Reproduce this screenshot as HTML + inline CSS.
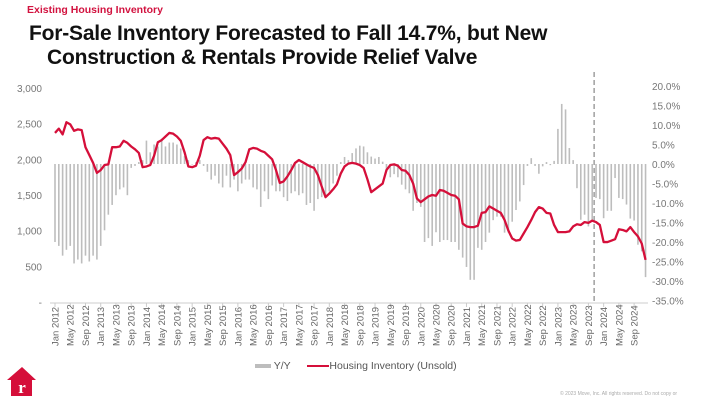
<!DOCTYPE html>
<html><head><meta charset="utf-8">
<style>
body{margin:0;width:702px;height:410px;background:#fff;overflow:hidden;font-family:"Liberation Sans",Arial,sans-serif;position:relative}
.sub{position:absolute;left:27px;top:4px;color:#d2123f;font-size:10.5px;font-weight:bold}
.t{position:absolute;font-size:21px;font-weight:bold;color:#111;white-space:nowrap;letter-spacing:-0.2px}
svg{position:absolute;left:0;top:0}
</style></head><body>
<div class="sub">Existing Housing Inventory</div>
<div class="t" style="left:29px;top:22px">For-Sale Inventory Forecasted to Fall 14.7%, but New</div>
<div class="t" style="left:47px;top:46px">Construction &amp; Rentals Provide Relief Valve</div>
<svg id="c" width="702" height="410"></svg>
<script>
const inventory=[2370,2430,2350,2520,2490,2400,2420,2410,2170,2060,1950,1810,
1850,1920,1930,2170,2170,2180,2260,2230,2180,2140,2090,1890,
1900,1920,2050,2240,2270,2320,2370,2360,2320,2260,2100,1900,
1890,1910,2050,2270,2310,2290,2300,2290,2220,2150,2060,1780,
1820,1870,1960,2140,2160,2150,2120,2100,2050,2000,1850,1670,
1690,1760,1850,1950,1990,1960,1930,1900,1880,1780,1620,1470,
1520,1580,1650,1800,1900,1940,1950,1940,1920,1880,1720,1540,
1580,1620,1660,1850,1920,1930,1910,1850,1840,1780,1660,1450,
1400,1440,1480,1500,1490,1570,1560,1530,1500,1490,1440,1100,
1060,1050,1050,1070,1250,1260,1340,1310,1280,1250,1150,1000,
890,860,870,960,1050,1150,1260,1330,1310,1250,1240,1080,
980,980,980,990,1060,1090,1080,1120,1110,1140,1120,1080,
840,840,860,880,1020,1010,990,1050,980,920,820,590];
const yoy=[-20,-21,-23.5,-22,-21,-25.5,-24.5,-25.5,-23.5,-25,-23.5,-24.5,
-21,-17,-13,-10.5,-8,-6.5,-6,-8,-1,-0.5,0.5,1,
6,3,5,4.5,6.5,4.5,5.5,5.5,5,4,2,1,
0,0.5,1,-0.5,-2,-4,-3,-5,-6,-3,-6,-4,
-7,-5,-4,-4,-6,-6.5,-11,-7,-9,-5.5,-7,-7,
-8.5,-9.5,-7.5,-7,-8,-7.5,-10.5,-10,-12,-9,-8.5,-8,
-7,-5,-3,0.5,1.8,1,2.8,4,4.7,4.5,3,1.9,
1.4,1.8,0.6,-2,-3.4,-2.6,-3.4,-5.3,-6.5,-7.5,-12,-10,
-11,-20,-19,-21,-17.5,-20,-19.5,-19.5,-20,-20,-22,-24,
-26.4,-29.7,-29.7,-21.5,-22,-20,-17.6,-14.4,-13.5,-13.5,-17.6,-17.6,
-14.8,-11.8,-9.6,-5.4,-0.5,1.5,-0.5,-2.5,-0.6,0.5,-0.3,0.8,
9,15.4,14,4.1,1,-6.2,-14.3,-13,-16,-14.5,-8.7,-9,
-13.9,-12,-12,-3.6,-8.7,-9,-10.4,-14,-14.5,-20.7,-22.4,-29];
const leftTicks=[0,500,1000,1500,2000,2500,3000];
const leftLabels=["-","500","1,000","1,500","2,000","2,500","3,000"];
const rightTicks=[20,15,10,5,0,-5,-10,-15,-20,-25,-30,-35];
const monthNames=["Jan","May","Sep"];
const startYear=2012;
const forecastMonth=141.5;

const NS="http://www.w3.org/2000/svg";
const svg=document.getElementById('c');
const X=i=>55+i*3.81;
const YL=v=>302-v/3000*214;
const YR=p=>164-p*3.9;
function mk(t,a){const e=document.createElementNS(NS,t);for(const k in a)e.setAttribute(k,a[k]);svg.appendChild(e);return e;}

leftTicks.forEach((v,i)=>{const e=mk('text',{x:42,y:YL(v)+4,'text-anchor':'end','font-size':'10','fill':'#777'});e.textContent=leftLabels[i];

});
rightTicks.forEach(p=>{const e=mk('text',{x:652,y:YR(p)+4,'font-size':'10','fill':'#777'});e.textContent=p.toFixed(1)+'%';

});

yoy.forEach((p,i)=>{const y0=YR(0),y1=YR(p);const r=mk('rect',{x:X(i)-0.8,y:Math.min(y0,y1),width:1.6,height:Math.max(0.5,Math.abs(y1-y0)),fill:'#bdbdbd'});

});

const ax=mk('line',{x1:50,y1:303,x2:648,y2:303,stroke:'#ccc','stroke-width':1});


for(let i=0;i<inventory.length;i+=4){
 mk('line',{x1:X(i),y1:303,x2:X(i),y2:307,stroke:'#ccc'});
 const t=mk('text',{transform:`translate(${X(i)+3.5},346) rotate(-90)`,'font-size':'9.5','fill':'#666'});
 t.textContent=monthNames[(i/4)%3]+' '+(startYear+Math.floor(i/12));
 
 
}

const dl=mk('line',{x1:X(forecastMonth),y1:72,x2:X(forecastMonth),y2:303,stroke:'#888','stroke-width':1.2,'stroke-dasharray':'5,3'});



const pl=mk('polyline',{points:inventory.map((v,i)=>X(i)+','+YL(v)).join(' '),fill:'none',stroke:'#d50f3a','stroke-width':2.3,'stroke-linejoin':'round'});


</script>
<div style="position:absolute;left:255px;top:360px;font-size:10.5px;color:#555">
 <span><span style="display:inline-block;width:16px;height:4px;background:#bdbdbd;vertical-align:middle"></span> Y/Y</span>
 <span style="margin-left:14px"><span style="display:inline-block;width:22px;height:2.5px;background:#d50f3a;vertical-align:middle"></span>Housing Inventory (Unsold)</span>
</div>
<div style="position:absolute;left:560px;top:391px;font-size:5px;color:#aaa">© 2023 Move, Inc. All rights reserved. Do not copy or</div>
<svg width="702" height="410" style="position:absolute;left:0;top:0;pointer-events:none">
 <polygon points="22,367 36,380 32,380 32,396 11,396 11,380 7,380" fill="#d50f3a"/>
 <text x="22" y="393" font-family="Liberation Serif,serif" font-weight="bold" font-size="17" fill="#fff" text-anchor="middle">r</text>
</svg>
</body></html>
